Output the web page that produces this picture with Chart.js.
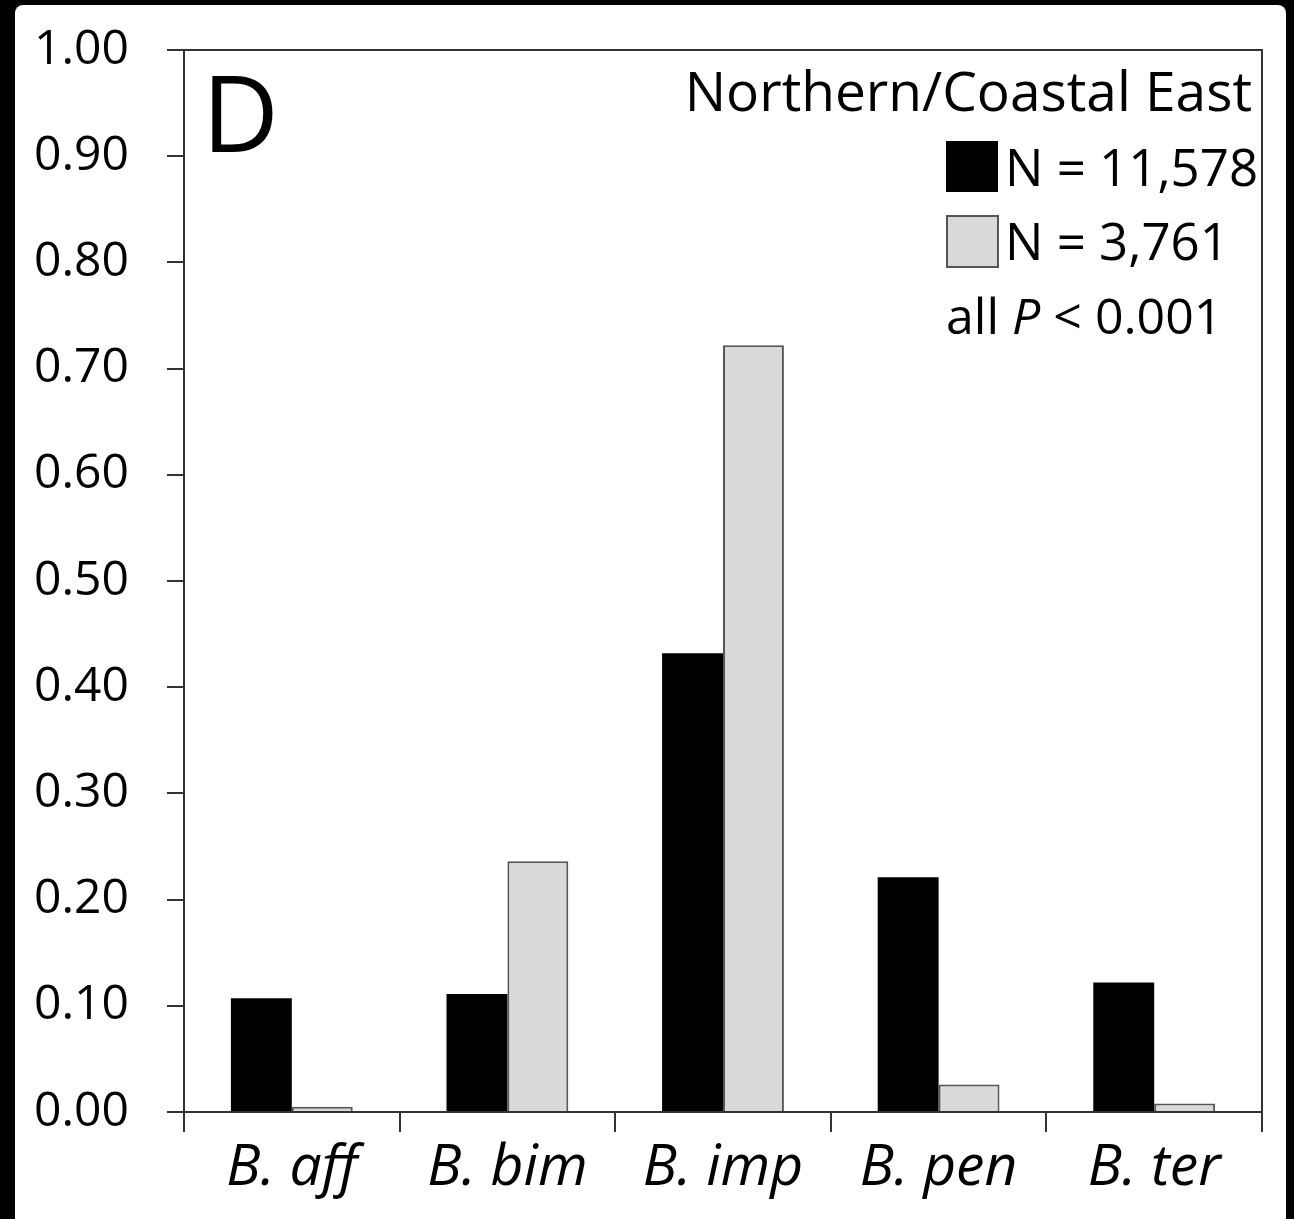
<!DOCTYPE html>
<html>
<head>
<meta charset="utf-8">
<script src="https://cdn.jsdelivr.net/npm/chart.js@4.4.1/dist/chart.umd.min.js"></script>
<style>
  html, body { margin: 0; padding: 0; background: #000; }
  #panel { position: absolute; left: 15px; top: 5px; width: 1271px; height: 1230px; background: #fff; border-radius: 8px; }
  #wrap { position: absolute; left: 0; top: 0; width: 1294px; height: 1219px; }
</style>
</head>
<body>
<div id="panel"></div>
<div id="wrap"><canvas id="c" width="1294" height="1219"></canvas></div>
<script>
const categories = ["B. aff", "B. bim", "B. imp", "B. pen", "B. ter"];
const seriesLabels = ["N = 11,578", "N = 3,761"];
const blackValues = [0.107, 0.111, 0.432, 0.221, 0.122];
const grayValues = [0.005, 0.236, 0.722, 0.026, 0.008];
const yTicks = [0, 0.1, 0.2, 0.3, 0.4, 0.5, 0.6, 0.7, 0.8, 0.9, 1.0];
const panelLetter = "D";
const regionTitle = "Northern/Coastal East";
const statNote = ["all ", "P", " < 0.001"];

const FONT = "'Open Sans', 'Liberation Sans', sans-serif";
const AXIS = "#333";

const overlay = {
  id: 'overlay',
  afterDraw(chart) {
    const ctx = chart.ctx;
    const a = chart.chartArea;
    ctx.save();
    // top and right frame
    ctx.strokeStyle = AXIS;
    ctx.lineWidth = 2;
    ctx.beginPath();
    ctx.moveTo(a.left, a.top);
    ctx.lineTo(a.right, a.top);
    ctx.lineTo(a.right, a.bottom);
    ctx.stroke();
    // panel letter
    ctx.fillStyle = '#000';
    ctx.textBaseline = 'alphabetic';
    ctx.font = `106px ${FONT}`;
    ctx.textAlign = 'left';
    ctx.fillText(panelLetter, 202, 152);
    // title
    ctx.font = `55px ${FONT}`;
    ctx.textAlign = 'right';
    ctx.fillText(regionTitle, 1252, 111);
    // legend entries
    const ds = chart.data.datasets;
    const rows = [{y: 141}, {y: 215}];
    ds.forEach((d, i) => {
      const y = rows[i].y;
      ctx.fillStyle = d.backgroundColor;
      ctx.fillRect(946, y, 52, 51);
      if (i === 1) {
        ctx.strokeStyle = '#555';
        ctx.lineWidth = 2;
        ctx.strokeRect(947, y + 1, 51, 51);
      }
      ctx.fillStyle = '#000';
      ctx.textAlign = 'left';
      ctx.font = `51px ${FONT}`;
      ctx.fillText(d.label, 1005, y + 45);
    });
    // stat note
    let x = 946;
    const yb = 334;
    ctx.textAlign = 'left';
    statNote.forEach((t, i) => {
      ctx.font = (i === 1 ? 'italic ' : '') + `50px ${FONT}`;
      ctx.fillText(t, x, yb);
      x += ctx.measureText(t).width;
    });
    ctx.restore();
  }
};

new Chart(document.getElementById('c'), {
  type: 'bar',
  data: {
    labels: categories,
    datasets: [
      { label: seriesLabels[0], data: blackValues, backgroundColor: '#000000', borderColor: '#000000', borderWidth: 0 },
      { label: seriesLabels[1], data: grayValues, backgroundColor: '#d9d9d9', borderColor: '#555555', borderWidth: 2 }
    ]
  },
  options: {
    responsive: false,
    animation: false,
    events: [],
    layout: { padding: { top: 50, right: 32, left: 0, bottom: 0 } },
    plugins: { legend: { display: false }, tooltip: { enabled: false } },
    datasets: { bar: { categoryPercentage: 0.565, barPercentage: 1.0 } },
    scales: {
      x: {
        grid: { display: true, drawOnChartArea: false, drawTicks: true, tickLength: 20, color: AXIS, lineWidth: 2, offset: true },
        border: { display: true, color: AXIS, width: 2 },
        ticks: { color: '#000', font: { family: FONT, size: 57, style: 'italic' }, padding: 3, maxRotation: 0 },
        afterFit(s) { s.height = 1219 - 1112; s.paddingLeft = 0; s.paddingRight = 0; }
      },
      y: {
        min: 0, max: 1,
        afterBuildTicks(s) { s.ticks = yTicks.map(v => ({ value: v })); },
        grid: { display: true, drawOnChartArea: false, drawTicks: true, tickLength: 17, color: AXIS, lineWidth: 2 },
        border: { display: true, color: AXIS, width: 2 },
        ticks: { color: '#000', font: { family: FONT, size: 48 }, padding: 38, callback: v => Number(v).toFixed(2) },
        afterFit(s) { s.width = 184; s.paddingTop = 0; s.paddingBottom = 0; }
      }
    }
  },
  plugins: [overlay]
});
</script>
</body>
</html>
